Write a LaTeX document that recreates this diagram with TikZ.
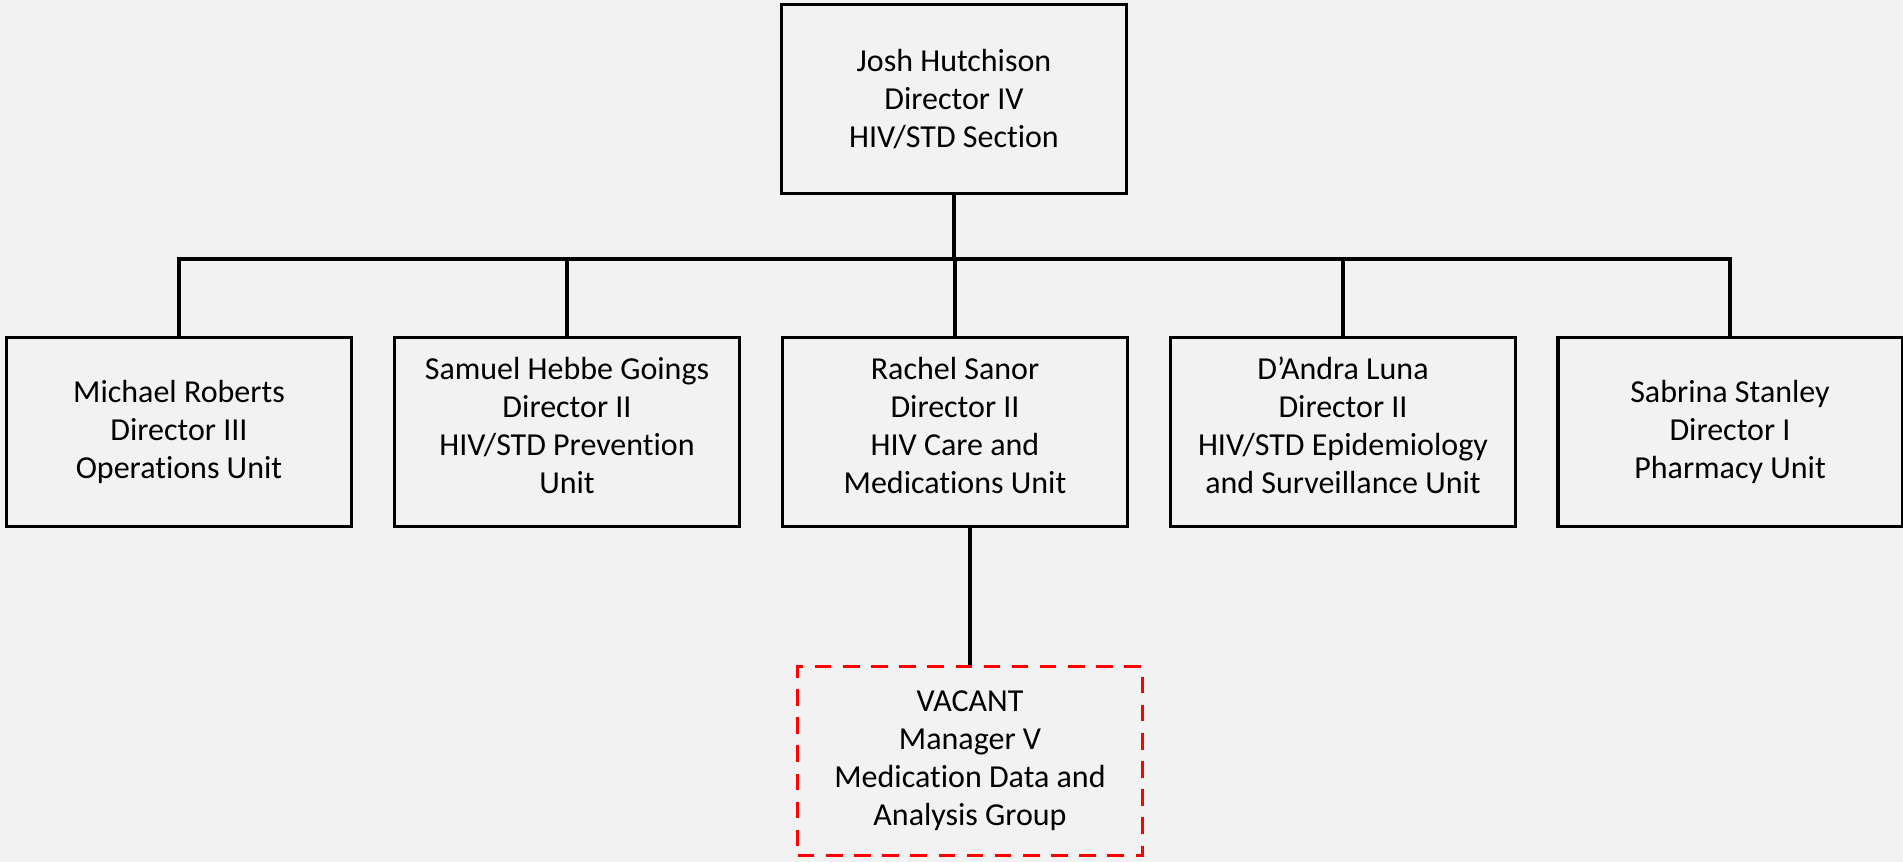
\documentclass[tikz,border=0pt]{standalone}
\usepackage{fontspec}
\setmainfont{Carlito}[Ligatures=NoCommon]
\definecolor{pagegray}{HTML}{F2F2F2}

\begin{document}
\begin{tikzpicture}[x=0.01cm,y=-0.01cm,
    box/.style={draw,line width=0.9pt,minimum width=3.44cm,minimum height=1.89cm,
      align=center,inner sep=0pt,font=\fontsize{9.1}{10.8}\selectfont},
    lifted/.style={text depth=4pt},
    vacantbox/.style={box,draw=red,dash pattern=on 4.7pt off 3.3pt},
    link/.style={line width=0.9pt}]
  % page
  \fill[pagegray] (0,0) rectangle (1903,862);
  \useasboundingbox (0,0) rectangle (1903,862);

  % section head
  \node[box] (hutchison) at (954,99) {Josh Hutchison\\Director IV\\HIV/STD Section};

  % units
  \node[box] (roberts) at (179,432) {Michael Roberts\\Director III\\Operations Unit};
  \node[box,lifted] (goings) at (567,432) {Samuel Hebbe Goings\\Director II\\HIV/STD Prevention\\Unit};
  \node[box,lifted] (sanor) at (955,432) {Rachel Sanor\\Director II\\HIV Care and\\Medications Unit};
  \node[box,lifted] (luna) at (1343,432) {D’Andra Luna\\Director II\\HIV/STD Epidemiology\\and Surveillance Unit};
  \node[box] (stanley) at (1730,432) {Sabrina Stanley\\Director I\\Pharmacy Unit};

  % vacant group
  \node[vacantbox] (vacant) at (970,761) {VACANT\\Manager V\\Medication Data and\\Analysis Group};

  % bus
  \coordinate (bus) at (954,259);
  \draw[link] (hutchison.south) -- (bus);
  \draw[link] (roberts.north) |- (bus) -| (stanley.north);
  \draw[link] (goings.north) -- (goings.north |- bus);
  \draw[link] (sanor.north) -- (sanor.north |- bus);
  \draw[link] (luna.north) -- (luna.north |- bus);

  % link to vacant group
  \draw[link] (vacant.north) -- (vacant.north |- sanor.south);
\end{tikzpicture}
\end{document}
